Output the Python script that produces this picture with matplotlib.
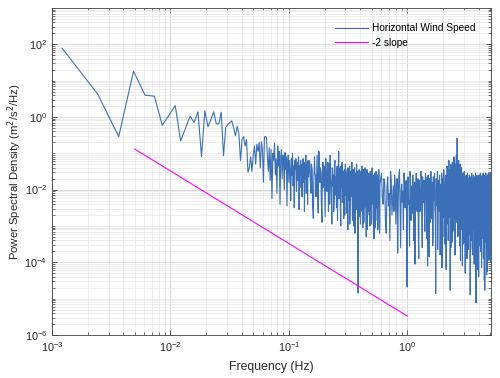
import numpy as np
import matplotlib
matplotlib.use("Agg")
import matplotlib.pyplot as plt
from matplotlib.ticker import LogLocator, NullFormatter

plt.rcParams['font.family'] = ['Liberation Sans', 'DejaVu Sans']

# spectrum bin spacing (Hz)
df = 0.00122

# log10 PSD, every bin 1..120
psd_lo = [1.89, 0.62, -0.54, 1.26, 0.60, 0.57, -0.23, 0.06, 0.31, -0.66,
          -0.31, 0.02, -0.15, 0.14, -1.09, 0.17, -0.27, -0.07, 0.14, -0.19,
          -0.19, 0.13, -1.07, -0.29, -0.21, -0.16, -0.11, -0.30, -0.52, -0.26,
          -0.45, -1.20, -0.62, -0.54, -0.80, -0.62, -1.52, -1.40, -1.10, -1.50,
          -1.05, -0.80, -1.30, -0.75, -0.95, -0.70, -1.40, -0.68, -0.90, -1.80,
          -0.55, -0.54, -0.56, -1.10, -1.50, -0.85, -1.75, -0.90, -2.25, -1.00,
          -1.20, -0.72, -1.60, -1.15, -2.10, -0.80, -1.35, -0.95, -2.40, -1.10,
          -0.90, -1.70, -1.05, -1.25, -2.00, -0.98, -1.45, -1.10, -2.45, -1.30,
          -1.05, -1.80, -1.20, -1.50, -2.30, -1.15, -1.60, -1.00, -1.90, -1.35,
          -2.50, -1.20, -1.45, -1.15, -2.05, -1.40, -1.25, -1.75, -1.10, -2.55,
          -1.35, -1.60, -1.20, -1.95, -1.30, -2.20, -1.50, -1.15, -1.80, -1.40,
          -2.60, -1.25, -1.70, -1.05, -2.10, -1.45, -1.30, -2.40, -1.20, -1.65]

# log10 PSD, bins 123..480, every 3rd bin
psd_mid = [-1.20, -2.10, -1.45, -2.80, -1.10, -1.65, -1.35, -2.35, -0.95, -1.80,
           -1.50, -2.90, -1.25, -1.70, -2.20, -1.15, -1.95, -1.40, -2.60, -1.30,
           -1.05, -1.85, -2.95, -1.45, -1.60, -2.25, -1.20, -1.75, -2.50, -1.35,
           -1.55, -0.95, -2.00, -1.40, -3.00, -1.65, -1.25, -2.15, -1.50, -1.85,
           -2.70, -1.30, -1.70, -2.05, -1.45, -3.10, -1.60, -1.90, -1.35, -2.30,
           -1.55, -2.00, -1.25, -2.85, -1.75, -1.50, -2.20, -1.40, -3.20, -1.65,
           -1.85, -1.30, -2.40, -1.60, -4.85, -1.90, -1.45, -2.10, -1.70, -2.95,
           -1.50, -2.25, -1.35, -1.80, -3.05, -1.55, -2.00, -1.75, -2.50, -1.40,
           -1.95, -1.60, -3.30, -1.85, -1.45, -2.15, -1.70, -2.60, -1.55, -2.05,
           -1.80, -3.00, -1.50, -2.30, -1.65, -1.95, -2.75, -1.40, -2.10, -1.75,
           -2.40, -1.60, -3.35, -1.90, -1.55, -2.20, -1.80, -2.85, -1.50, -2.05,
           -1.70, -2.50, -1.85, -3.10, -1.60, -2.00, -1.45, -2.35, -1.75, -2.90]

# log10 PSD, bins 124..481, every 3rd bin
psd_mid_b = [-1.65, -1.30, -2.45, -1.85, -1.55, -2.20, -1.05, -2.65, -1.70, -1.40,
             -2.30, -1.60, -1.95, -1.35, -2.75, -1.50, -2.05, -1.25, -1.80, -2.40,
             -1.55, -2.10, -1.40, -1.90, -2.60, -1.30, -2.15, -1.65, -1.45, -2.85,
             -1.75, -2.25, -1.50, -2.50, -1.35, -1.95, -2.35, -1.60, -2.80, -1.45,
             -1.90, -2.15, -1.55, -2.65, -1.80, -1.40, -2.30, -1.70, -2.95, -1.50,
             -2.20, -1.65, -1.85, -2.45, -1.45, -3.00, -1.75, -2.05, -1.55, -2.35,
             -1.70, -2.55, -1.50, -2.10, -1.80, -2.40, -1.60, -2.75, -1.95, -1.55,
             -2.30, -1.85, -2.60, -1.65, -2.20, -1.45, -2.90, -1.75, -2.05, -1.60,
             -2.45, -1.80, -2.15, -1.55, -3.10, -1.90, -2.35, -1.65, -2.00, -2.70,
             -1.60, -2.25, -1.85, -2.55, -1.50, -2.95, -1.75, -2.15, -1.95, -2.40,
             -1.65, -2.70, -1.85, -2.10, -1.55, -3.05, -1.90, -2.30, -1.70, -2.50,
             -1.80, -2.20, -1.60, -2.85, -1.95, -2.45, -1.70, -2.15, -3.20, -1.85]

# log10 PSD, bins 496..4160, every 16th bin
psd_hi = [-1.55, -2.40, -1.80, -3.20, -1.65, -2.10, -1.50, -2.70, -1.90, -1.60,
          -2.95, -1.70, -2.25, -1.45, -3.60, -1.85, -2.05, -1.55, -2.50, -1.75,
          -4.68, -1.65, -2.30, -1.50, -2.85, -1.90, -1.60, -3.40, -1.80, -2.15,
          -1.55, -2.60, -1.70, -3.90, -1.85, -2.00, -1.50, -2.75, -1.65, -2.35,
          -1.75, -3.15, -1.55, -2.20, -1.80, -4.10, -1.60, -2.45, -1.70, -2.90,
          -1.50, -2.10, -1.85, -3.55, -1.65, -2.30, -1.55, -2.65, -4.86, -1.70,
          -2.00, -1.50, -3.05, -1.75, -2.40, -1.60, -3.80, -1.85, -2.20, -1.55,
          -2.80, -1.70, -2.05, -1.45, -3.30, -1.80, -2.50, -1.60, -4.20, -1.75,
          -1.35, -2.25, -1.50, -3.00, -1.20, -2.60, -1.45, -4.77, -1.30, -2.15,
          -1.40, -3.45, -1.25, -2.35, -1.55, -2.80, -1.10, -2.05, -1.45, -3.70,
          -1.30, -2.40, -1.05, -2.90, -0.58, -1.90, -1.35, -3.25, -1.20, -2.55,
          -1.50, -2.20, -1.30, -3.95, -1.55, -2.45, -1.40, -3.10, -1.60, -2.30,
          -1.55, -3.50, -1.70, -2.15, -1.50, -2.85, -1.65, -4.30, -1.75, -2.40,
          -1.60, -3.20, -1.80, -2.10, -1.55, -2.70, -1.70, -3.65, -1.85, -2.25,
          -1.60, -2.95, -1.75, -4.90, -1.65, -2.50, -1.80, -3.35, -1.55, -2.20,
          -1.70, -3.80, -1.85, -2.35, -1.60, -2.75, -1.75, -4.05, -1.65, -2.45,
          -1.80, -3.10, -1.55, -2.60, -5.12, -1.70, -2.30, -1.60, -3.55, -1.85,
          -2.15, -1.65, -2.90, -1.75, -4.40, -1.60, -2.40, -1.80, -3.25, -1.70,
          -2.20, -1.55, -3.70, -1.75, -2.55, -1.65, -4.15, -1.80, -2.35, -1.60,
          -3.05, -1.70, -2.50, -1.55, -3.90, -1.85, -2.25, -1.65, -4.50, -1.75,
          -4.77, -1.60, -2.40, -1.80, -3.30, -1.55, -2.70, -1.70, -3.85, -1.65,
          -2.30, -1.75, -4.25, -1.60, -2.60, -1.80, -3.45, -1.55, -2.20, -1.70,
          -3.95, -1.65, -2.45, -1.80, -3.20, -1.55, -2.65, -1.70, -4.00, -1.60]

# log10 PSD, bins 504..4168, every 16th bin
psd_hi_b = [-2.20, -1.70, -2.85, -1.95, -2.45, -3.40, -1.75, -2.30, -2.60, -1.85,
            -2.10, -3.75, -1.60, -2.55, -2.00, -2.35, -3.10, -1.80, -2.25, -2.70,
            -1.90, -2.40, -3.55, -1.70, -2.15, -2.65, -1.95, -2.30, -4.05, -1.80,
            -2.45, -2.05, -3.25, -1.75, -2.60, -2.20, -1.90, -3.60, -2.35, -2.00,
            -2.70, -1.85, -2.25, -3.35, -1.65, -2.50, -2.10, -3.85, -1.95, -2.40,
            -2.15, -2.80, -1.80, -3.20, -2.30, -1.70, -2.55, -3.00, -2.05, -2.45,
            -1.85, -3.65, -2.20, -2.60, -1.75, -2.35, -3.30, -2.00, -2.50, -4.15,
            -1.90, -2.30, -2.75, -1.65, -2.40, -3.50, -2.10, -2.25, -1.80, -2.95,
            -1.55, -2.15, -3.40, -1.40, -2.20, -2.75, -1.60, -2.05, -3.60, -1.50,
            -2.30, -1.35, -2.65, -3.15, -1.50, -2.10, -2.45, -1.30, -3.80, -1.70,
            -2.25, -1.25, -2.70, -1.45, -2.05, -3.30, -1.60, -2.35, -1.40, -2.90,
            -1.85, -3.55, -2.10, -1.65, -2.40, -2.85, -1.75, -2.20, -4.10, -1.80,
            -2.35, -1.90, -2.70, -3.45, -1.75, -2.25, -2.05, -1.85, -3.05, -2.50,
            -1.95, -2.40, -3.90, -1.70, -2.30, -2.15, -1.80, -2.55, -3.25, -2.00,
            -2.45, -1.85, -2.20, -2.70, -3.65, -1.75, -2.35, -2.05, -1.90, -3.40,
            -2.25, -1.80, -2.60, -3.10, -1.95, -2.40, -2.15, -1.70, -3.75, -2.30,
            -2.05, -2.55, -1.85, -3.30, -2.20, -2.45, -1.75, -2.90, -2.10, -4.20,
            -1.90, -2.35, -2.75, -1.80, -2.25, -3.55, -2.00, -2.50, -1.85, -2.65,
            -3.15, -1.95, -2.30, -2.10, -1.75, -3.80, -2.40, -2.20, -2.85, -1.90,
            -2.45, -3.35, -1.80, -2.25, -2.05, -2.60, -3.70, -1.85, -2.35, -2.15,
            -2.00, -2.70, -1.75, -3.45, -2.30, -2.10, -1.90, -2.55, -4.35, -1.80,
            -2.40, -2.20, -2.85, -1.70, -3.20, -2.05, -2.50, -1.85, -3.60, -2.25,
            -2.15, -1.80, -3.05, -2.45, -1.95, -2.35, -3.85, -1.75, -2.30, -2.10]

# reference slope line end points
slope_f = [0.005, 1.0]
slope_psd = [0.13, 3.3e-6]

bins = np.concatenate([np.arange(1, 121), np.arange(123, 481, 3), np.arange(124, 482, 3),
                       np.arange(496, 4161, 16), np.arange(504, 4169, 16)])
logp = np.array(psd_lo + psd_mid + psd_mid_b + psd_hi + psd_hi_b)
order = np.argsort(bins, kind='stable')
freq = df * bins[order]
psd = 10.0 ** logp[order]

fig = plt.figure(figsize=(5.0, 3.78), dpi=100)
ax = fig.add_axes([0.104, 0.114, 0.878, 0.865])

ax.loglog(freq, psd, color='#3b70b8', lw=0.8, label='Horizontal Wind Speed')
ax.loglog(slope_f, slope_psd, color='#ff00ff', lw=0.8, label='-2 slope')

ax.set_xlim(1e-3, 5.09)
ax.set_ylim(1e-6, 1e3)

ax.yaxis.set_major_locator(LogLocator(base=100.0, numticks=20))
ax.yaxis.set_minor_locator(LogLocator(base=10.0, subs=np.arange(1, 10), numticks=50))
ax.yaxis.set_minor_formatter(NullFormatter())
ax.xaxis.set_major_locator(LogLocator(base=10.0, numticks=20))
ax.xaxis.set_minor_locator(LogLocator(base=10.0, subs=np.arange(2, 10), numticks=50))
ax.xaxis.set_minor_formatter(NullFormatter())

ax.grid(True, which='major', color='#d2d2d2', lw=0.6)
ax.grid(True, which='minor', color='#e6e6e6', lw=0.5)
ax.set_axisbelow(True)

ax.tick_params(which='both', direction='in', top=True, right=True,
               colors='#404040', labelcolor='#262626', labelsize=7.8)
ax.tick_params(which='major', length=3.5, width=0.6)
ax.tick_params(which='minor', length=2, width=0.5)
for s in ax.spines.values():
    s.set_color('#404040')
    s.set_linewidth(0.6)

ax.set_xlabel('Frequency (Hz)', fontsize=8.8, color='#262626', labelpad=5)
ax.set_ylabel('Power Spectral Density (m$^2$/s$^2$/Hz)', fontsize=8.2, color='#262626',
              labelpad=0)

ax.legend(loc='upper right', frameon=False, fontsize=7.3, handlelength=3.3,
          handletextpad=0.4, borderaxespad=1.1, labelspacing=0.45)

fig.savefig('out.png', dpi=100)
